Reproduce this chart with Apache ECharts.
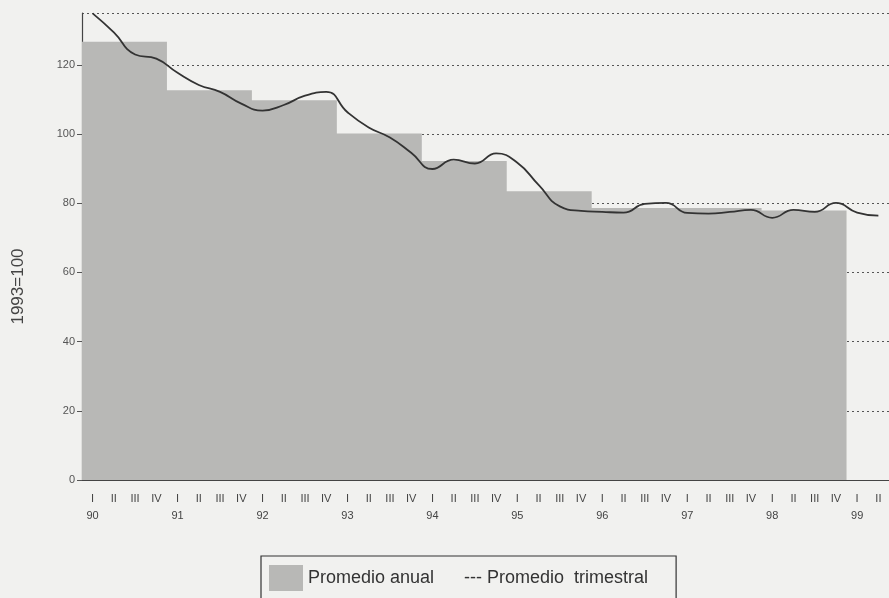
<!DOCTYPE html>
<html>
<head>
<meta charset="UTF-8">
<title>Promedio anual y trimestral</title>
<style>
body{margin:0;background:#f1f1ef;}
#main{width:889px;height:598px;}
</style>
</head>
<body>
<div id="main"></div>
<script src="https://cdn.jsdelivr.net/npm/echarts@6/dist/echarts.min.js"></script>
<script>
// años y trimestres del eje
var years = ['90','91','92','93','94','95','96','97','98','99'];
var quarters = ['I','II','III','IV'];

// promedio anual 1990-1998 (1993=100)
var annual = [126.7, 112.7, 109.8, 100.2, 92.2, 83.5, 78.6, 78.6, 77.9];

// promedio trimestral, 90-I a 99-II
var quarterly = [
	134.9, 129.4, 123.0, 121.8,
	117.7, 114.2, 112.2, 108.8,
	106.8, 108.4, 111.1, 112.2,
	106.3, 101.9, 99.0, 94.6,
	89.9, 92.6, 91.5, 94.4,
	91.7, 85.3, 79.1, 77.8,
	77.5, 77.3, 79.8, 80.1,
	77.2, 77.0, 77.5, 78.1,
	75.8, 78.1, 77.5, 80.1,
	77.3, 76.4
];

var categories = [];
for(var i=0;i<quarterly.length;i++){
	categories.push(quarters[i%4] + (i%4==0 ? '\n'+years[i/4] : ''));
}

// escalón del promedio anual sobre un eje de 0 a 38 trimestres
var stepData = [];
for(var j=0;j<annual.length;j++){
	stepData.push([j*4, annual[j]]);
}
stepData.push([annual.length*4, annual[annual.length-1]]);

var myChart = echarts.init(document.getElementById('main'));
myChart.setOption({
	backgroundColor:'#f1f1ef',
	animation:false,
	textStyle:{fontFamily:'Liberation Sans, Arial, sans-serif'},
	grid:{left:82, right:0, top:13, bottom:118},
	legend:{
		data:['Promedio anual'],
		left:261, top:556,
		padding:[9,28,24,8],
		borderColor:'#333',
		borderWidth:1.2,
		itemWidth:34, itemHeight:26,
		itemGap:4,
		icon:'rect',
		textStyle:{fontSize:18, color:'#333'},
		formatter:function(name){
			return name + '      --- Promedio  trimestral';
		}
	},
	xAxis:[{
		type:'category',
		data:categories,
		boundaryGap:true,
		axisLine:{lineStyle:{color:'#444', width:1.2}},
		axisTick:{length:3, lineStyle:{color:'#555'}},
		axisLabel:{
			interval:0, color:'#444', fontSize:11, lineHeight:17, margin:10
		},
		splitLine:{show:false}
	},{
		type:'value',
		min:0, max:38,
		show:false
	}],
	yAxis:{
		type:'value',
		min:0, max:135, interval:20,
		name:'1993=100',
		nameLocation:'middle',
		nameRotate:90,
		nameGap:55,
		nameTextStyle:{fontSize:17, color:'#444', padding:[0,80,0,0]},
		axisLine:{show:true, lineStyle:{color:'#444', width:1.2}},
		axisTick:{show:true, length:5, lineStyle:{color:'#555'}},
		axisLabel:{color:'#555', fontSize:11, margin:7, showMaxLabel:false},
		splitLine:{show:true, lineStyle:{color:'#555', type:[2,3], width:1.2}}
	},
	series:[{
		name:'Promedio anual',
		type:'line',
		xAxisIndex:1,
		step:'end',
		symbol:'none',
		data:stepData,
		itemStyle:{color:'#b8b8b6'},
		lineStyle:{width:0},
		areaStyle:{color:'#b8b8b6', opacity:1},
		z:2
	},{
		name:'Promedio trimestral',
		type:'line',
		xAxisIndex:0,
		smooth:true,
		symbol:'none',
		data:quarterly,
		lineStyle:{color:'#333', width:1.8},
		itemStyle:{color:'#333'},
		z:3
	}]
});
</script>
</body>
</html>
